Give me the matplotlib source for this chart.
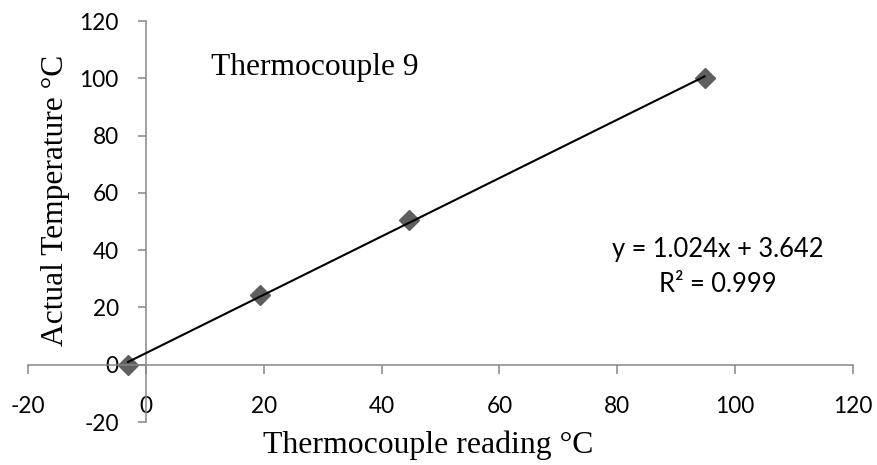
import matplotlib
matplotlib.use("Agg")
import matplotlib.pyplot as plt
import numpy as np

# Data
reading = [-3.0, 19.4, 44.7, 94.8]
actual = [0.0, 24.4, 50.6, 100.0]
x_ticks = [-20, 0, 20, 40, 60, 80, 100, 120]
y_ticks = [-20, 0, 20, 40, 60, 80, 100, 120]
title_text = "Thermocouple 9"
eq_line1 = "y = 1.024x + 3.642"
eq_line2 = "R² = 0.999"
x_label = "Thermocouple reading °C"
y_label = "Actual Temperature °C"

W, H = 877, 465
fig = plt.figure(figsize=(W / 100, H / 100), dpi=100)
ax = fig.add_axes([28 / W, 1 - 422 / H, (853 - 28) / W, (422 - 21) / H])

ax.set_xlim(-20, 120)
ax.set_ylim(-20, 120)

spine_col = "#868686"
for s in ["top", "right"]:
    ax.spines[s].set_visible(False)
ax.spines["left"].set_position(("data", 0))
ax.spines["bottom"].set_position(("data", 0))
for s in ["left", "bottom"]:
    ax.spines[s].set_color(spine_col)
    ax.spines[s].set_linewidth(1.1)

ax.set_xticks(x_ticks)
ax.set_yticks(y_ticks)
ax.set_xticklabels([str(v) for v in x_ticks])
ax.set_yticklabels([str(v) for v in y_ticks])
ax.tick_params(axis="x", direction="out", length=6.5, width=1.1, color=spine_col,
               pad=16, labelsize=16.3)
ax.tick_params(axis="y", direction="out", length=6, width=1.1, color=spine_col,
               pad=13.5, labelsize=16.3)
for lab in ax.get_xticklabels() + ax.get_yticklabels():
    lab.set_fontfamily("Lato")

# Trendline (linear fit) over data range
coef = np.polyfit(reading, actual, 1)
xr = np.array([min(reading), max(reading)])
ax.plot(xr, np.polyval(coef, xr), color="black", lw=1.5, zorder=3)

ax.plot(reading, actual, linestyle="none", marker="D", markersize=9.7,
        color="#5f5f5f", zorder=2, clip_on=False)

serif = "Liberation Serif"
fig.text(211 / W, 1 - 75 / H, title_text, fontfamily=serif, fontsize=22.7,
         ha="left", va="baseline")
fig.text(718 / W, 1 - 257 / H, eq_line1, fontfamily="Lato",
         fontsize=18.4, ha="center", va="baseline")
fig.text(718 / W, 1 - 292 / H, eq_line2, fontfamily="Lato",
         fontsize=18.4, ha="center", va="baseline")
fig.text(428 / W, 1 - 453 / H, x_label, fontfamily=serif, fontsize=22.9,
         ha="center", va="baseline")
fig.text(56 / W, 1 - 200 / H, y_label, fontfamily=serif, fontsize=22.7,
         ha="center", va="center", rotation=90)

fig.savefig("out.png", dpi=100)
